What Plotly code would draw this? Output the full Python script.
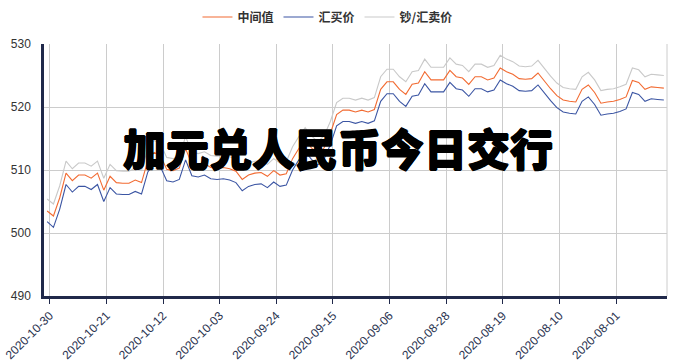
import pandas as pd
import plotly.graph_objects as go

# ---- data ----
dates = [d.strftime("%Y-%m-%d") for d in pd.date_range("2020-07-24", "2020-10-30", freq="D")][::-1]

mid = [503.5, 502.7, 505.6, 509.5, 508.3, 509.2, 509.2, 508.7, 509.5, 506.8,
       509.0, 508.0, 507.9, 507.9, 508.4, 508.0, 511.5, 512.8, 512.3, 510.1,
       509.9, 510.3, 513.4, 510.9, 510.7, 511.0, 510.4, 510.3, 510.4, 510.2,
       509.8, 508.5, 509.2, 509.5, 509.6, 509.0, 509.9, 509.2, 509.4, 511.8,
       513.4, 514.8, 513.5, 512.6, 513.5, 515.8, 518.8, 519.5, 519.5, 519.2,
       519.5, 519.2, 519.6, 522.8, 524.0, 524.0, 522.8, 522.0, 523.6, 523.8,
       525.6, 524.3, 524.3, 524.3, 525.8, 524.8, 524.6, 523.6, 524.8, 524.8,
       524.3, 524.6, 526.2, 525.6, 525.2, 524.5, 524.4, 524.5, 525.4, 524.1,
       522.9, 521.8, 521.1, 520.9, 520.8, 522.8, 523.5, 522.3, 520.6, 520.8,
       520.9, 521.2, 521.6, 524.2, 523.9, 522.8, 523.2, 523.1, 523.0]

buy = [501.8, 500.9, 503.8, 507.7, 506.5, 507.4, 507.4, 506.9, 507.7, 505.0,
       507.2, 506.2, 506.1, 506.1, 506.6, 506.2, 509.7, 511.0, 510.5, 508.3,
       508.1, 508.5, 511.6, 509.1, 508.9, 509.2, 508.6, 508.5, 508.6, 508.4,
       508.0, 506.7, 507.4, 507.7, 507.8, 507.2, 508.1, 507.4, 507.6, 510.0,
       511.6, 513.0, 511.7, 510.8, 511.7, 514.0, 517.0, 517.7, 517.7, 517.4,
       517.7, 517.4, 517.8, 520.9, 522.1, 522.1, 520.9, 520.1, 521.7, 521.9,
       523.7, 522.4, 522.4, 522.4, 523.9, 522.9, 522.7, 521.7, 522.9, 522.9,
       522.4, 522.7, 524.3, 523.7, 523.3, 522.6, 522.5, 522.6, 523.5, 522.2,
       521.0, 519.9, 519.2, 519.0, 518.9, 520.9, 521.6, 520.4, 518.7, 518.9,
       519.0, 519.3, 519.7, 522.3, 522.0, 520.9, 521.3, 521.2, 521.1]

sell = [505.4, 504.6, 507.5, 511.4, 510.2, 511.1, 511.1, 510.6, 511.4, 508.7,
        510.9, 509.9, 509.8, 509.8, 510.3, 509.9, 513.4, 514.7, 514.2, 512.0,
        511.8, 512.2, 515.3, 512.8, 512.6, 512.9, 512.3, 512.2, 512.3, 512.1,
        511.7, 510.4, 511.1, 511.4, 511.5, 510.9, 511.8, 511.1, 511.3, 513.7,
        515.3, 516.7, 515.4, 514.5, 515.4, 517.7, 520.7, 521.4, 521.4, 521.1,
        521.4, 521.1, 521.5, 524.8, 526.0, 526.0, 524.8, 524.0, 525.6, 525.8,
        527.6, 526.3, 526.3, 526.3, 527.8, 526.8, 526.6, 525.6, 526.8, 526.8,
        526.3, 526.6, 528.2, 527.6, 527.2, 526.5, 526.4, 526.5, 527.4, 526.1,
        524.9, 523.8, 523.1, 522.9, 522.8, 524.8, 525.5, 524.3, 522.6, 522.8,
        522.9, 523.2, 523.6, 526.2, 525.9, 524.8, 525.2, 525.1, 525.0]

series_names = ["中间值", "汇买价", "钞/汇卖价"]
tick_labels = ["2020-10-30", "2020-10-21", "2020-10-12", "2020-10-03", "2020-09-24",
               "2020-09-15", "2020-09-06", "2020-08-28", "2020-08-19", "2020-08-10",
               "2020-08-01"]
y_ticks = [490, 500, 510, 520, 530]
title_text = "加元兑人民币今日交行"

# ---- figure ----
CJK = "Noto Sans CJK SC"
colors = ["#f26b32", "#3b55a3", "#c9c9c9"]

fig = go.Figure()
for name, vals, col in zip(series_names, [mid, buy, sell], colors):
    fig.add_trace(go.Scatter(x=dates, y=vals, name=name, mode="lines",
                             line=dict(color=col, width=1.1)))

tick_pos = [pd.Timestamp(t) - pd.Timedelta(hours=10) for t in tick_labels]

fig.update_layout(
    width=675, height=361,
    margin=dict(l=44, r=8, t=44, b=65, autoexpand=False),
    paper_bgcolor="white", plot_bgcolor="white",
    font=dict(family="Liberation Sans, " + CJK, color="#333333", size=12),
    showlegend=True,
    legend=dict(orientation="h", x=0.455, xanchor="center", y=1.107, yanchor="middle",
                font=dict(family=CJK, size=12, color="#333333", weight="bold"),
                itemwidth=30, traceorder="normal"),
    xaxis=dict(type="date", range=["2020-10-30 12:00", "2020-07-23 12:00"],
               tickvals=tick_pos, ticktext=tick_labels, tickangle=-45,
               tickfont=dict(size=12, color="#2a3350"), automargin=False,
               showgrid=True, gridcolor="#cccccc", gridwidth=1,
               showline=True, linecolor="#20294a", linewidth=3,
               ticks="outside", ticklen=5, tickcolor="#20294a", tickwidth=1,
               zeroline=False),
    yaxis=dict(range=[490, 530], tickvals=y_ticks, automargin=False,
               tickfont=dict(size=12, color="#333333"),
               showgrid=True, gridcolor="#cccccc", gridwidth=1,
               showline=True, linecolor="#20294a", linewidth=2.5,
               ticks="", ticklabelstandoff=8, zeroline=False),
)

fig.add_shape(type="line", xref="paper", yref="paper", x0=1, x1=1, y0=0, y1=1,
              line=dict(color="#cccccc", width=1), layer="below")

fig.add_annotation(text=title_text, xref="paper", yref="paper", x=0.472, y=0.59,
                   xanchor="center", yanchor="middle", showarrow=False,
                   font=dict(family=CJK, size=43, color="#000000", weight=900,
                             shadow="0.7px 0 0 #000, -0.7px 0 0 #000, 0 0.7px 0 #000, 0 -0.7px 0 #000"))

fig.write_html("out.html")
